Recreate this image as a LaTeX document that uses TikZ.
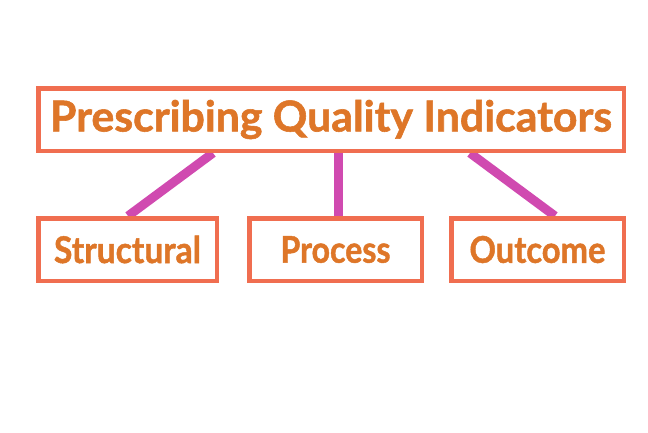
\documentclass[tikz,border=0pt]{standalone}
\usepackage{fontspec}
\setmainfont{Lato}[BoldFeatures={FakeBold=1.3}]
\usepackage{graphicx}
\usetikzlibrary{backgrounds}
\definecolor{boxc}{RGB}{240,110,80}
\definecolor{txtc}{RGB}{222,118,40}
\definecolor{linec}{RGB}{208,74,176}
\tikzset{
  catbox/.style={draw=boxc, line width=4.5pt, fill=white, inner sep=0pt, text=txtc, font=\bfseries},
  link/.style={draw=linec, line width=9pt}
}
\begin{document}
\begin{tikzpicture}[x=1pt,y=-1pt]
\useasboundingbox (0,0) rectangle (648,432);
\node[catbox, minimum width=585.5pt, minimum height=62.5pt] (top) at (331,119.5)
  {\fontsize{42.5pt}{44pt}\selectfont\resizebox{562pt}{\height}{Prescribing Quality Indicators}};
\node[catbox, minimum width=178.5pt, minimum height=62.5pt] (s) at (127.5,249.5)
  {\fontsize{36.8pt}{38pt}\selectfont\resizebox{147pt}{\height}{Structural}};
\node[catbox, minimum width=172.5pt, minimum height=62.5pt] (p) at (335.5,249.5)
  {\fontsize{36.8pt}{38pt}\selectfont\resizebox{110pt}{\height}{Process}};
\node[catbox, minimum width=172.5pt, minimum height=62.5pt] (o) at (537.5,249.5)
  {\fontsize{36.8pt}{38pt}\selectfont\resizebox{136pt}{\height}{Outcome}};
\begin{scope}[on background layer]
\fill[white] (0,0) rectangle (648,432);
\draw[link] ([xshift=-118pt]top.south) -- ([xshift=0.5pt]s.north);
\draw[link] ([xshift=7pt]top.south) -- ([xshift=2.5pt]p.north);
\draw[link] ([xshift=139pt]top.south) -- ([xshift=17.5pt]o.north);
\end{scope}
\end{tikzpicture}
\end{document}
